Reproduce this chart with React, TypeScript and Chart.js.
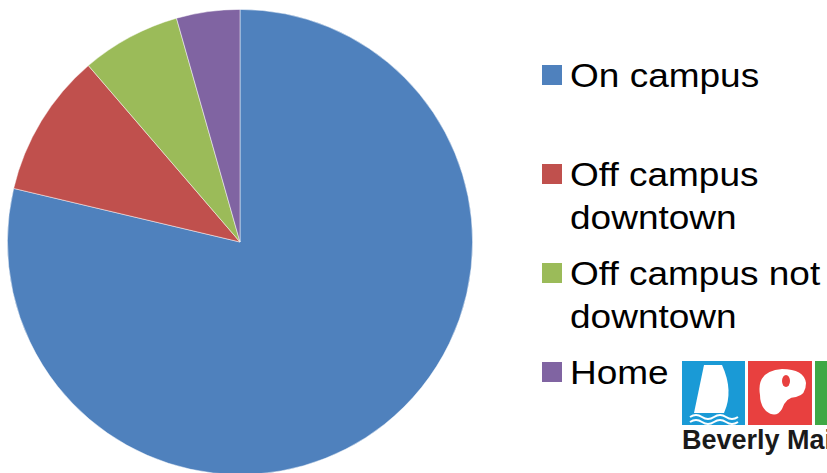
import React, { useEffect, useRef } from "react";
import { Chart, registerables } from "chart.js";

Chart.register(...registerables);

const categories: string[][] = [
  ["On campus"],
  ["Off campus", "downtown"],
  ["Off campus not", "downtown"],
  ["Home"],
];
const values: number[] = [78.7, 10, 6.9, 4.4];
const colors: string[] = ["#4F81BD", "#C0504D", "#9BBB59", "#8064A2"];

export default function App() {
  const ref = useRef<HTMLCanvasElement | null>(null);

  useEffect(() => {
    if (!ref.current) return;
    const chart = new Chart(ref.current, {
      type: "pie",
      data: {
        labels: categories.map((c) => c.join(" ")),
        datasets: [
          {
            data: values,
            backgroundColor: colors,
            borderColor: "rgba(255,255,255,0.6)",
            borderWidth: 0.8,
          },
        ],
      },
      options: {
        animation: false,
        responsive: false,
        maintainAspectRatio: false,
        layout: { padding: 0 },
        plugins: {
          legend: { display: false },
          tooltip: { enabled: false },
        },
      },
    });
    return () => chart.destroy();
  }, []);

  const font = '"Liberation Sans", Arial, sans-serif';

  return (
    <div
      style={{
        position: "absolute",
        left: 0,
        top: 0,
        width: 827,
        height: 473,
        overflow: "hidden",
        background: "#ffffff",
        fontFamily: font,
      }}
    >
      <canvas
        ref={ref}
        width={466}
        height={466}
        style={{ position: "absolute", left: 7, top: 9, width: 466, height: 466 }}
      />
      {categories.map((lines, i) => (
        <div
          key={i}
          style={{
            position: "absolute",
            left: 542,
            top: 56 + i * 99,
            display: "flex",
            alignItems: "flex-start",
          }}
        >
          <div
            style={{
              width: 20,
              height: 20,
              background: colors[i],
              marginTop: 9,
              marginRight: 8,
              flex: "none",
            }}
          />
          <div
            style={{
              fontSize: 37,
              lineHeight: "47px",
              marginTop: -1,
              color: "#000",
              whiteSpace: "nowrap",
              transform: "scaleY(0.9)",
              transformOrigin: "top left",
            }}
          >
            {lines.map((l, j) => (
              <div key={j}>{l}</div>
            ))}
          </div>
        </div>
      ))}
      {/* logo */}
      <div style={{ position: "absolute", left: 682, top: 361 }}>
        <svg width={160} height={66} style={{ display: "block" }}>
          <rect x={0} y={0} width={63} height={64} fill="#1A9AD6" />
          <path d="M22 4 L12 52 L42 52 Q52 30 40 4 Z" fill="#ffffff" />
          <path d="M8 56 Q14 52 20 56 T32 56 T44 56 T56 56" stroke="#fff" strokeWidth={2} fill="none" />
          <path d="M8 61 Q14 57 20 61 T32 61 T44 61 T56 61" stroke="#fff" strokeWidth={2} fill="none" />
          <rect x={66} y={0} width={64} height={64} fill="#E8403F" />
          <path d="M78 34 Q74 10 100 8 Q122 8 124 22 Q124 34 114 36 Q104 36 100 48 Q94 58 84 50 Q78 44 78 34 Z" fill="#ffffff" />
          <ellipse cx={104} cy={20} rx={4} ry={6} fill="#E8403F" />
          <rect x={133} y={0} width={30} height={64} fill="#3FA845" />
        </svg>
        <div
          style={{
            fontFamily: '"Liberation Sans", Arial, sans-serif',
            fontWeight: "bold",
            fontSize: 27,
            color: "#1a1a1a",
            whiteSpace: "nowrap",
            marginTop: -2,
          }}
        >
          Beverly Main
        </div>
      </div>
    </div>
  );
}
